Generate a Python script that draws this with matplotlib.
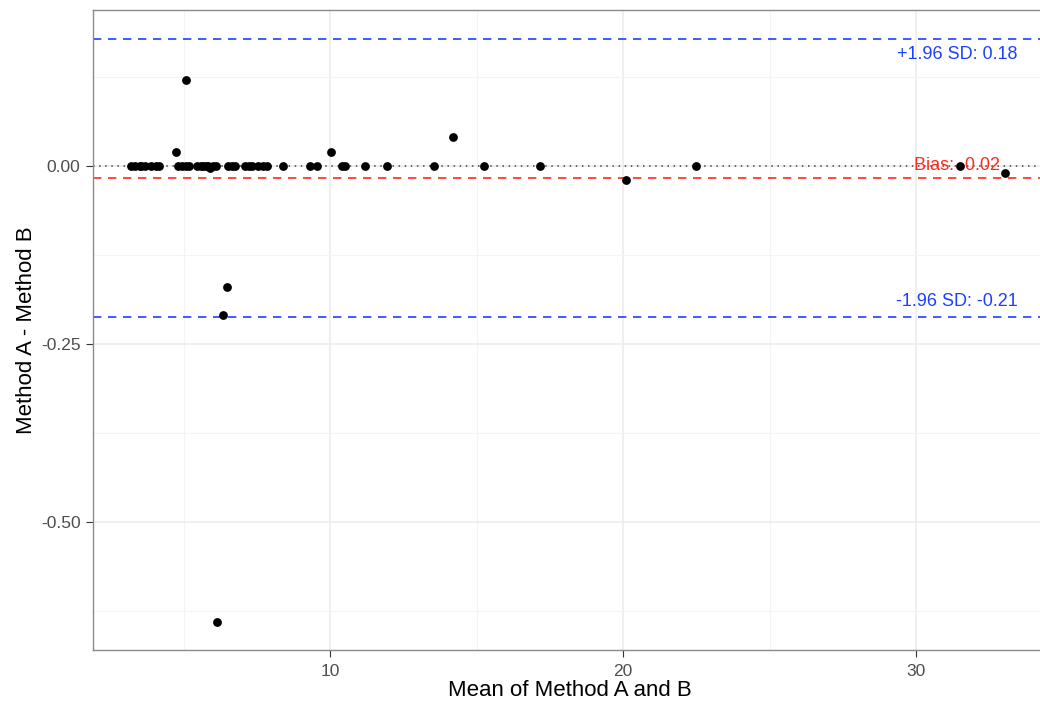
import numpy as np
import matplotlib.pyplot as plt
from matplotlib.ticker import MultipleLocator, FuncFormatter

plt.rcParams['font.family'] = ['Liberation Sans', 'DejaVu Sans']
plt.rcParams['axes.unicode_minus'] = False

# mean of the two methods and their difference (A - B)
mean_ab = [3.2, 3.35, 3.5, 3.55, 3.7, 3.9, 4.05, 4.15,
           4.75, 4.8, 4.95, 5.1, 5.1, 5.2, 5.45, 5.58, 5.65, 5.75, 5.85, 5.92, 6.0, 6.1,
           6.52, 6.65, 6.75,
           6.5, 6.35, 6.15,
           7.1, 7.25, 7.35, 7.55, 7.7, 7.85, 8.4, 9.3, 9.55,
           10.05, 10.4, 10.5, 11.2, 11.95, 13.55, 14.2, 15.25, 17.15,
           20.1, 22.5, 31.5, 33.05]
diff_ab = [0.0, 0.0, 0.0, 0.0, 0.0, 0.0, 0.0, 0.0,
           0.02, 0.0, 0.0, 0.12, 0.0, 0.0, 0.0, 0.0, 0.0, 0.0, 0.0, -0.003, 0.0, 0.0,
           0.0, 0.0, 0.0,
           -0.17, -0.21, -0.64,
           0.0, 0.0, 0.0, 0.0, 0.0, 0.0, 0.0, 0.0, 0.0,
           0.02, 0.0, 0.0, 0.0, 0.0, 0.0, 0.04, 0.0, 0.0,
           -0.02, 0.0, 0.0, -0.01]

d = np.array(diff_ab)
bias = d.mean()
sd = d.std(ddof=1)
upper = bias + 1.96 * sd
lower = bias - 1.96 * sd

fig = plt.figure(figsize=(10.4, 7.04), dpi=100)
ax = fig.add_axes([93 / 1040, 54 / 704, (1046 - 93) / 1040, 640 / 704])

ax.set_xlim(1.91, 10 + 716 / 29.3)
ax.set_ylim(-0.680, 0.219)

ax.xaxis.set_major_locator(MultipleLocator(10))
ax.xaxis.set_minor_locator(MultipleLocator(5))
ax.yaxis.set_major_locator(MultipleLocator(0.25))
ax.yaxis.set_minor_locator(MultipleLocator(0.125))
ax.yaxis.set_major_formatter(FuncFormatter(lambda v, p: f"{v:.2f}"))
ax.grid(which='major', color='#EBEBEB', lw=1.1)
ax.grid(which='minor', color='#F4F4F4', lw=0.8)
ax.set_axisbelow(True)
ax.tick_params(which='major', length=5, color='#333333', labelcolor='#4D4D4D',
               labelsize=12.5, width=0.8, pad=4)
ax.tick_params(axis='x', which='major', pad=5)
ax.tick_params(which='minor', length=0)
for s in ax.spines.values():
    s.set_color('#8a8a8a')
    s.set_linewidth(1.0)

ax.axhline(0, color='#444444', ls=(0, (1, 3)), lw=1.1, zorder=1)
ax.axhline(bias, color='#FF2A1A', ls=(0, (5, 4)), lw=1.2, zorder=1)
ax.axhline(upper, color='#1F3FFF', ls=(0, (5, 4)), lw=1.2, zorder=1)
ax.axhline(lower, color='#1F3FFF', ls=(0, (5, 4)), lw=1.2, zorder=1)

ax.scatter(mean_ab, diff_ab, s=40, color='black', zorder=3, linewidths=0)

ax.text(33.48, upper - 0.021, f"+1.96 SD: {upper:.2f}", color='#1F3FFF',
        ha='right', va='center', fontsize=13)
ax.text(32.87, 0.0, f"Bias: {bias:.2f}", color='#FF2A1A',
        ha='right', va='center', fontsize=13, zorder=2)
ax.text(33.48, lower + 0.021, f"-1.96 SD: {lower:.2f}", color='#1F3FFF',
        ha='right', va='center', fontsize=13)

ax.set_xlabel("Mean of Method A and B", fontsize=16, labelpad=1)
ax.set_ylabel("Method A - Method B", fontsize=16, labelpad=3)

fig.savefig("out.png", dpi=100)
